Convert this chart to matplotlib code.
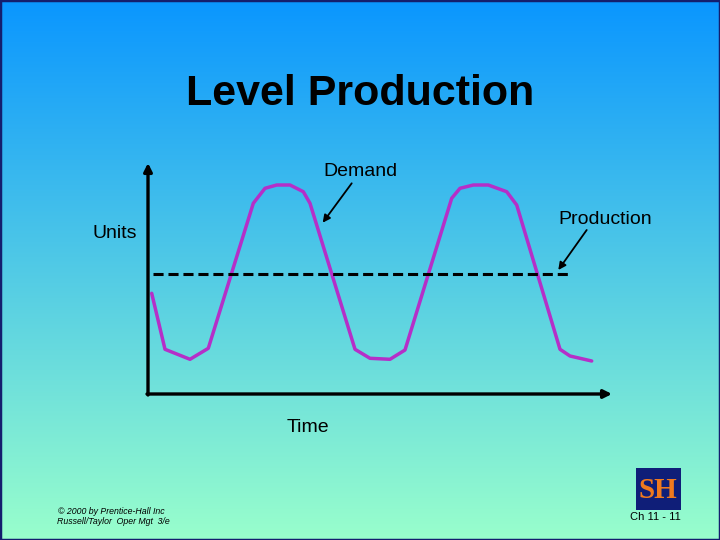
import numpy as np
import matplotlib
matplotlib.use("Agg")
import matplotlib.pyplot as plt
from matplotlib.patches import Rectangle

# ---- data ----
demand_time = [3.7, 17, 42, 60.3, 105.3, 117, 128.7, 142, 155.3, 162, 207, 222, 242, 257,
               303.7, 312, 325.3, 340.3, 358.7, 368.7, 412, 422, 443.7]
demand_units = [100.7, 44.7, 34.7, 45.7, 190.7, 205.7, 209, 209, 202.3, 190.7, 44.7, 35.7, 34.7, 44,
                195.7, 205.7, 209, 209, 202.3, 189, 44.7, 38, 33]
production_time = [5, 422]
production_units = [120, 120]

title = "Level Production"
x_label = "Time"
y_label = "Units"

plt.rcParams['font.family'] = ['Liberation Sans', 'DejaVu Sans']

fig = plt.figure(figsize=(7.2, 5.4), dpi=100)

# background gradient
bg = fig.add_axes([0, 0, 1, 1])
top = np.array([10, 150, 255]) / 255
bot = np.array([153, 255, 204]) / 255
t = np.linspace(0, 1, 540)[:, None]
grad = top[None, :] * (1 - t) + bot[None, :] * t
bg.imshow(grad[:, None, :], aspect='auto', extent=[0, 1, 0, 1], origin='upper')
bg.set_xlim(0, 1); bg.set_ylim(0, 1)
bg.axis('off')
bg.add_patch(Rectangle((0, 0), 1, 1, fill=False, edgecolor='#141e6e', lw=2.5,
                       transform=bg.transAxes, clip_on=False))

# main axes
ax = fig.add_axes([148/720, (540-394)/540, (612-148)/720, (394-163)/540])
ax.set_xlim(0, 464)
ax.set_ylim(0, 231)
ax.patch.set_alpha(0)
for s in ax.spines.values():
    s.set_visible(False)
ax.set_xticks([]); ax.set_yticks([])

axis_arrow = dict(arrowstyle='-|>', lw=2.4, color='black', mutation_scale=12, shrinkA=0, shrinkB=0)
ax.annotate('', xy=(464, 0), xytext=(-1, 0), arrowprops=axis_arrow, annotation_clip=False)
ax.annotate('', xy=(0, 231), xytext=(0, -1), arrowprops=axis_arrow, annotation_clip=False)

ax.plot(demand_time, demand_units, color='#b52fc8', lw=2.5, solid_joinstyle='round',
        solid_capstyle='round', clip_on=False)
ax.plot(production_time, production_units, color='black', lw=2.2,
        linestyle=(0, (3.3, 1.6)), clip_on=False)

ptr = dict(arrowstyle='-|>', lw=1.3, color='black', mutation_scale=11, shrinkA=0, shrinkB=0)
ax.annotate('', xy=(174.7, 171.3), xytext=(203.7, 210.7), arrowprops=ptr, annotation_clip=False)
ax.annotate('', xy=(410.3, 124), xytext=(438.7, 164), arrowprops=ptr, annotation_clip=False)

ax.text(212, 222, "Demand", fontsize=14, ha='center', va='center', clip_on=False)
ax.text(457, 174, "Production", fontsize=14, ha='center', va='center', clip_on=False)
ax.text(-33, 161, y_label, fontsize=14, ha='center', va='center', clip_on=False)
ax.text(160, -33, x_label, fontsize=14, ha='center', va='center', clip_on=False)

fig.text(360/720, 1 - 94/540, title, fontsize=31, fontweight='bold', ha='center', va='center')

fig.text(58/720, 1 - 511/540, "© 2000 by Prentice-Hall Inc", fontsize=6.3, style='italic',
         ha='left', va='center')
fig.text(57/720, 1 - 522/540, "Russell/Taylor  Oper Mgt  3/e", fontsize=6.3, style='italic',
         ha='left', va='center')

# logo
fig.patches.append(Rectangle((636/720, 1 - 510/540), 45/720, 42/540, transform=fig.transFigure,
                             facecolor='#0f1e78', edgecolor='none', figure=fig))
fig.text(658/720, 1 - 490/540, "SH", fontsize=21, fontweight='bold', family='Liberation Serif',
         color='#f07a1e', ha='center', va='center')
fig.text(655/720, 1 - 517/540, "Ch 11 - 11", fontsize=8, ha='center', va='center')

fig.savefig("out.png", dpi=100)
